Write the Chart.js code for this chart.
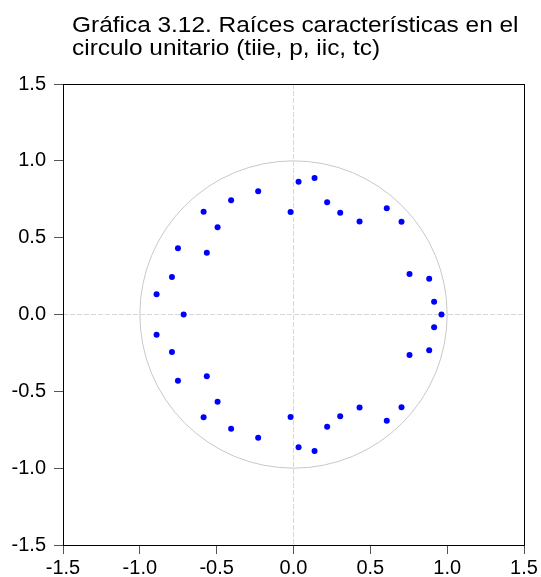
<!DOCTYPE html>
<html>
<head>
<meta charset="utf-8">
<script src="https://cdn.jsdelivr.net/npm/chart.js@4"></script>
<style>
  html, body { margin: 0; padding: 0; background: #fff; }
  #wrap { position: relative; width: 541px; height: 577px; }
  #title {
    position: absolute; left: 72px; top: 13px;
    font-family: "Liberation Sans", Arial, sans-serif;
    font-size: 22px; line-height: 23px; color: #000;
    transform: scaleX(1.11); transform-origin: left top;
    white-space: nowrap;
  }
</style>
</head>
<body>
<div id="wrap">
  <div id="title">Gráfica 3.12. Raíces características en el<br>circulo unitario (tiie, p, iic, tc)</div>
  <canvas id="rootsChart"></canvas>
</div>
<script>
// inverse roots of the characteristic polynomial
const realParts = [
  0.963, 0.915, 0.883, 0.755, 0.703, 0.607, 0.430, 0.304, 0.219, 0.137,
  0.033, -0.019, -0.230, -0.406, -0.494, -0.585, -0.564, -0.752, -0.791, -0.891,
  -0.715,
  0.915, 0.883, 0.755, 0.703, 0.607, 0.430, 0.304, 0.219, 0.137,
  0.033, -0.019, -0.230, -0.406, -0.494, -0.585, -0.564, -0.752, -0.791, -0.891
];
const imagParts = [
  0.000, 0.083, 0.233, 0.263, 0.604, 0.691, 0.606, 0.662, 0.730, 0.888,
  0.864, 0.667, 0.802, 0.743, 0.567, 0.669, 0.402, 0.431, 0.244, 0.131,
  0.000,
  -0.083, -0.233, -0.263, -0.604, -0.691, -0.606, -0.662, -0.730, -0.888,
  -0.864, -0.667, -0.802, -0.743, -0.567, -0.669, -0.402, -0.431, -0.244, -0.131
];
const tickValues = [-1.5, -1.0, -0.5, 0.0, 0.5, 1.0, 1.5];

const points = realParts.map((re, i) => ({ x: re, y: imagParts[i] }));

// unit circle under the points, frame around the plot area
const unitCircle = {
  id: 'unitCircle',
  beforeDatasetsDraw(chart) {
    const { ctx, scales: { x, y } } = chart;
    const cx = x.getPixelForValue(0);
    const cy = y.getPixelForValue(0);
    const rx = x.getPixelForValue(1) - cx;
    const ry = cy - y.getPixelForValue(1);
    ctx.save();
    ctx.strokeStyle = '#c8c8c8';
    ctx.lineWidth = 1;
    ctx.beginPath();
    ctx.ellipse(cx, cy, rx, ry, 0, 0, Math.PI * 2);
    ctx.stroke();
    ctx.restore();
  },
  afterDraw(chart) {
    const { ctx, chartArea: a } = chart;
    const l = Math.round(a.left) + 0.5, r = Math.round(a.right) + 0.5;
    const t = Math.round(a.top) + 0.5, b = Math.round(a.bottom) + 0.5;
    ctx.save();
    ctx.strokeStyle = '#000';
    ctx.lineWidth = 1;
    ctx.strokeRect(l, t, r - l, b - t);
    ctx.restore();
  }
};

function axisOptions(pad, fit) {
  return {
    type: 'linear',
    min: -1.5,
    max: 1.5,
    afterBuildTicks: scale => { scale.ticks = tickValues.map(v => ({ value: v })); },
    afterFit: fit,
    grid: {
      color: ctx => (ctx.tick && ctx.tick.value === 0) ? '#d8d8d8' : 'rgba(0,0,0,0)',
      lineWidth: 1,
      tickColor: '#555',
      tickLength: 9
    },
    border: { display: false, dash: [5, 2] },
    ticks: {
      color: '#000',
      padding: pad,
      autoSkip: false,
      maxRotation: 0,
      font: { family: '"Liberation Sans", Arial, sans-serif', size: 20 },
      callback: v => v.toFixed(1)
    }
  };
}

new Chart(document.getElementById('rootsChart'), {
  type: 'scatter',
  data: {
    datasets: [{
      label: 'Raíces',
      data: points,
      pointRadius: 3,
      pointHoverRadius: 3,
      pointBackgroundColor: '#0000ff',
      pointBorderWidth: 0,
      showLine: false
    }]
  },
  options: {
    responsive: true,
    maintainAspectRatio: false,
    animation: false,
    layout: { padding: { top: 84, right: 17, left: 0, bottom: 0 } },
    plugins: {
      legend: { display: false },
      tooltip: { enabled: false },
      title: { display: false }
    },
    scales: {
      x: axisOptions(2, scale => {
        scale.height = 32;
        scale.paddingLeft = 0;
        scale.paddingRight = 0;
      }),
      y: axisOptions(8, scale => {
        scale.width = 63;
        scale.paddingTop = 0;
        scale.paddingBottom = 0;
      })
    }
  },
  plugins: [unitCircle]
});
</script>
</body>
</html>
